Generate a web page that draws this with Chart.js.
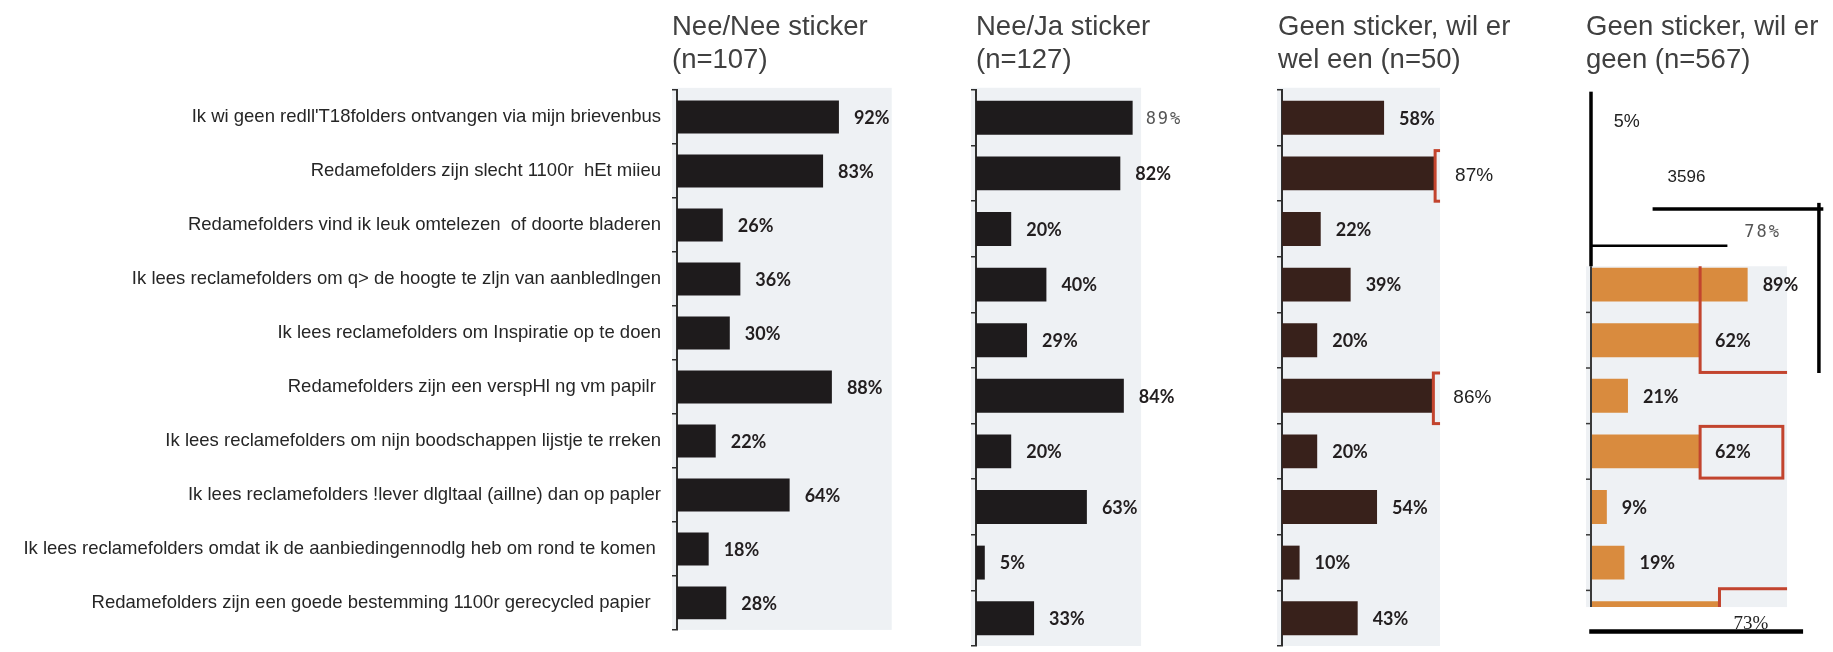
<!DOCTYPE html>
<html>
<head>
<meta charset="utf-8">
<script src="https://cdn.jsdelivr.net/npm/chart.js@4.4.1/dist/chart.umd.min.js"></script>
<style>
html,body{margin:0;padding:0;background:#fff;width:1833px;height:652px;overflow:hidden;}
canvas.p{position:absolute;top:0;}
</style>
</head>
<body>
<canvas id="c1" class="p"></canvas>
<canvas id="c2" class="p"></canvas>
<canvas id="c3" class="p"></canvas>
<canvas id="c4" class="p"></canvas>
<script>
// ---------- data ----------
const categories = [
  "Ik wi geen redll'T18folders ontvangen via mijn brievenbus",
  "Redamefolders zijn slecht 1100r  hEt miieu",
  "Redamefolders vind ik leuk omtelezen  of doorte bladeren",
  "Ik lees reclamefolders om q> de hoogte te zljn van aanbledlngen",
  "Ik lees reclamefolders om Inspiratie op te doen",
  "Redamefolders zijn een verspHl ng vm papilr ",
  "Ik lees reclamefolders om nijn boodschappen lijstje te rreken",
  "Ik lees reclamefolders !lever dlgltaal (aillne) dan op papler",
  "Ik lees reclamefolders omdat ik de aanbiedingennodlg heb om rond te komen ",
  "Redamefolders zijn een goede bestemming 1100r gerecycled papier  "
];
const panelTitles = [
  ["Nee/Nee sticker", "(n=107)"],
  ["Nee/Ja sticker", "(n=127)"],
  ["Geen sticker, wil er", "wel een (n=50)"],
  ["Geen sticker, wil er", "geen (n=567)"]
];
const neeNee   = [92, 83, 26, 36, 30, 88, 22, 64, 18, 28];
const neeJa    = [89, 82, 20, 40, 29, 84, 20, 63, 5, 33];
const geenWel  = [58, 87, 22, 39, 20, 86, 20, 54, 10, 43];
const geenGeen = [5, 35, 78, 89, 62, 21, 62, 9, 19, 73];
const geenGeenLabels = ["5%", "3596", "78%", "89%", "62%", "21%", "62%", "9%", "19%", "73%"];
const geenWelHighlight = [1, 5];
const geenGeenHighlight = [4, 6, 9];

// ---------- styles / layout ----------
const AREA_W = 176;            // pixel width of 0..100 %
const RED = '#c2442e';
const FONT_BOLD = {font: 'bold 18px Lato', color: '#221e1f', gap: 15, dy: 1};
const FONT_MONO = {font: '17px "DejaVu Sans Mono"', color: '#555', gap: 13, dy: 2, spacing: '2px'};
const FONT_REG  = {font: '19px "Liberation Sans"', color: '#222', gap: 20, dy: 2};
const FONT_SERIF= {font: '19px "Liberation Serif"', color: '#222', gap: 14, dy: 6};

const panels = [
  {id:'c1', title: panelTitles[0], values: neeNee, labels: neeNee.map(v => v + '%'),
   left: 0, width: 1003, yW: 677, showTicks: true, color: '#1e1b1c', titleDx: -5,
   bg: {x: 122, y0: -0.54, y1: 9.5}, style: r => FONT_BOLD},
  {id:'c2', title: panelTitles[1], values: neeJa, labels: neeJa.map(v => v + '%'),
   left: 966, width: 330, yW: 10, showTicks: false, color: '#1e1b1c', titleDx: 0,
   bg: {x: 93.8, y0: -0.54, y1: 9.5}, style: r => r === 0 ? FONT_MONO : FONT_BOLD},
  {id:'c3', title: panelTitles[2], values: geenWel, labels: geenWel.map(v => v + '%'),
   left: 1272, width: 300, yW: 10, showTicks: false, color: '#38211b', titleDx: -4,
   bg: {x: 89.8, y0: -0.54, y1: 9.5},
   style: r => geenWelHighlight.includes(r) ? FONT_REG : FONT_BOLD,
   boxes: geenWelHighlight.map(r => ({row: r, top: r - 0.41, bottom: r + 0.5, right: 110}))},
  {id:'c4', title: panelTitles[3], values: geenGeen, labels: geenGeenLabels,
   left: 1581, width: 252, yW: 10, showTicks: false, color: '#d98b3e', titleDx: -5,
   bg: {x: 111.4, y0: 2.67, y1: 8.8, xStart: -2.8}, clip: true, customAxis: true,
   style: r => {
     if (r === 0) return {font: '18px "Liberation Sans"', color: '#222', gap: 14, dy: 4};
     if (r === 1) return {font: '17px "Liberation Sans"', color: '#222', gap: 15, dy: 4};
     if (r === 2) return Object.assign({}, FONT_MONO, {gap: 16, dy: 4});
     if (r === 9) return FONT_SERIF;
     return FONT_BOLD;
   },
   boxes: [
     {row: geenGeenHighlight[0], top: 2.5, bottom: 4.58, right: 140},
     {row: geenGeenHighlight[1], top: 5.55, bottom: 6.48, right: 109},
     {row: geenGeenHighlight[2], top: 8.47, bottom: 9.6, right: 140}
   ],
   artifacts: [
     {x0: 0, y0: -0.47, x1: 0, y1: 2.67, w: 3.5},
     {x0: 0, y0: 2.3, x1: 77.5, y1: 2.3, w: 2.5},
     {x0: 35, y0: 1.64, x1: 132, y1: 1.64, w: 3.5},
     {x0: 129.5, y0: 1.53, x1: 129.5, y1: 4.59, w: 3.5},
     {x0: -1, y0: 9.24, x1: 120.5, y1: 9.24, w: 4.5}
   ]}
];

const decor = {
  id: 'decor',
  beforeDraw(chart, args, o) {
    const p = o.panel, x = chart.scales.x, y = chart.scales.y, ctx = chart.ctx;
    ctx.save();
    ctx.fillStyle = '#eef1f4';
    const bx0 = x.getPixelForValue(p.bg.xStart !== undefined ? p.bg.xStart : -2.8);
    const by0 = y.getPixelForValue(p.bg.y0), by1 = y.getPixelForValue(p.bg.y1);
    ctx.fillRect(bx0, by0, x.getPixelForValue(p.bg.x) - bx0, by1 - by0);
    ctx.restore();
  },
  beforeDatasetsDraw(chart, args, o) {
    const p = o.panel;
    if (!p.clip) return;
    const x = chart.scales.x, y = chart.scales.y, ctx = chart.ctx;
    ctx.save();
    ctx.beginPath();
    const by0 = y.getPixelForValue(p.bg.y0), by1 = y.getPixelForValue(p.bg.y1);
    ctx.rect(x.getPixelForValue(-3), by0, x.getPixelForValue(p.bg.x) - x.getPixelForValue(-3), by1 - by0);
    ctx.clip();
  },
  afterDatasetsDraw(chart, args, o) {
    const p = o.panel, x = chart.scales.x, y = chart.scales.y, ctx = chart.ctx;
    if (p.clip) ctx.restore();
    const bx0 = x.getPixelForValue(-3), bx1 = x.getPixelForValue(p.bg.x);
    const by0 = y.getPixelForValue(p.bg.y0), by1 = y.getPixelForValue(p.bg.y1);
    // custom axis (panel 4)
    if (p.customAxis) {
      ctx.save();
      ctx.strokeStyle = '#3a3a3a';
      ctx.lineWidth = 2;
      const ax = x.getPixelForValue(0);
      ctx.beginPath(); ctx.moveTo(ax, by0); ctx.lineTo(ax, by1); ctx.stroke();
      ctx.lineWidth = 1.5;
      for (let b = 3.5; b < 9; b++) {
        const ty = y.getPixelForValue(b);
        ctx.beginPath(); ctx.moveTo(ax - 5, ty); ctx.lineTo(ax, ty); ctx.stroke();
      }
      ctx.restore();
    }
    // red highlight boxes
    if (p.boxes) {
      ctx.save();
      ctx.beginPath();
      ctx.rect(bx0, by0, bx1 - bx0, by1 - by0);
      ctx.clip();
      ctx.strokeStyle = RED;
      ctx.lineWidth = 3;
      p.boxes.forEach(b => {
        const l = x.getPixelForValue(p.values[b.row]);
        const r = x.getPixelForValue(b.right);
        const t = y.getPixelForValue(b.top), btm = y.getPixelForValue(b.bottom);
        ctx.strokeRect(l, t, r - l, btm - t);
      });
      ctx.restore();
    }
    // stray black lines
    if (p.artifacts) {
      ctx.save();
      ctx.strokeStyle = '#000';
      ctx.lineCap = 'butt';
      p.artifacts.forEach(a => {
        ctx.lineWidth = a.w;
        ctx.beginPath();
        ctx.moveTo(x.getPixelForValue(a.x0), y.getPixelForValue(a.y0));
        ctx.lineTo(x.getPixelForValue(a.x1), y.getPixelForValue(a.y1));
        ctx.stroke();
      });
      ctx.restore();
    }
    // value labels
    const meta = chart.getDatasetMeta(0);
    meta.data.forEach((bar, i) => {
      const s = p.style(i);
      ctx.save();
      ctx.font = s.font;
      ctx.fillStyle = s.color;
      if (s.spacing) ctx.letterSpacing = s.spacing;
      ctx.textAlign = 'left';
      ctx.textBaseline = 'middle';
      ctx.fillText(p.labels[i], bar.x + s.gap, bar.y + (s.dy || 0));
      ctx.restore();
    });
  },
  afterDraw(chart, args, o) {
    const p = o.panel, ctx = chart.ctx;
    const lx = chart.chartArea.left + p.titleDx;
    ctx.save();
    ctx.font = '27.5px "Liberation Sans"';
    ctx.fillStyle = '#404040';
    ctx.textAlign = 'left';
    ctx.textBaseline = 'alphabetic';
    ctx.fillText(p.title[0], lx, 35);
    ctx.fillText(p.title[1], lx, 68);
    ctx.restore();
  }
};

panels.forEach(p => {
  const cv = document.getElementById(p.id);
  cv.width = p.width; cv.height = 652;
  cv.style.left = p.left + 'px';
  cv.style.width = p.width + 'px'; cv.style.height = '652px';
  new Chart(cv, {
    type: 'bar',
    data: {
      labels: categories,
      datasets: [{
        data: p.values,
        backgroundColor: p.color,
        borderWidth: 0,
        barPercentage: 0.61,
        categoryPercentage: 1
      }]
    },
    plugins: [decor],
    options: {
      indexAxis: 'y',
      responsive: false,
      animation: false,
      devicePixelRatio: 1,
      layout: {padding: {top: 90, bottom: 6, left: 0, right: p.width - p.yW - AREA_W}},
      plugins: {
        legend: {display: false},
        tooltip: {enabled: false},
        title: {display: false},
        decor: {panel: p}
      },
      scales: {
        x: {display: false, min: 0, max: 100},
        y: {
          position: 'left',
          afterFit: s => { s.width = p.yW; },
          border: {display: !p.customAxis, color: '#2f2f2f', width: 2},
          grid: {display: !p.customAxis, offset: true, drawOnChartArea: false, drawTicks: true,
                 tickLength: 5, color: '#2f2f2f', lineWidth: 1.5},
          ticks: {display: p.showTicks, autoSkip: false, padding: 11,
                  font: {family: 'Liberation Sans', size: 18.5}, color: '#262626'}
        }
      }
    }
  });
});
</script>
</body>
</html>
